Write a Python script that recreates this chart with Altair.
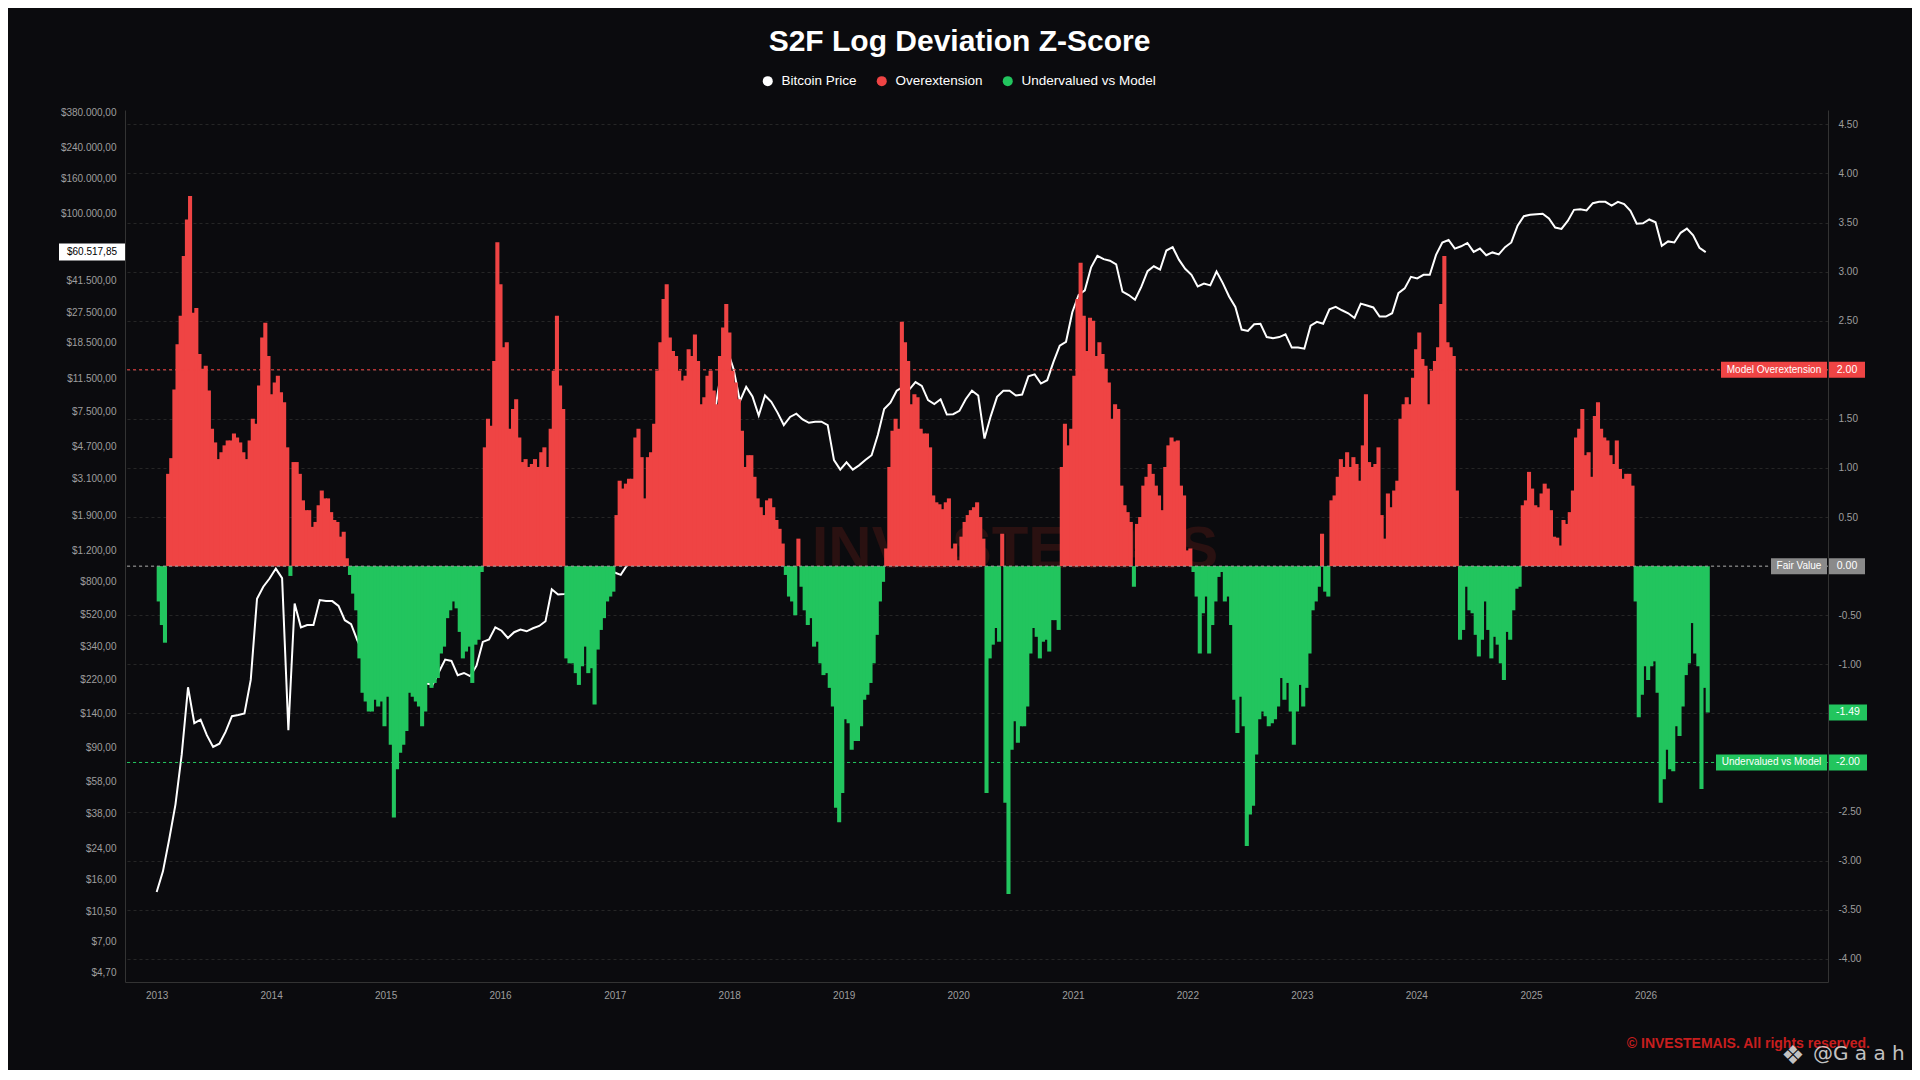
import altair as alt
import pandas as pd
import numpy as np

# ------------------------------------------------------------------ data
# S2F log-deviation z-score, sampled every 10 days from 2013-01-01
z_2013_2016 = [
    -0.36, -0.6, -0.78, 0.94, 1.1, 1.8, 2.26, 2.55, 3.16, 3.53, 3.77, 2.58, 2.63, 2.16, 2.01, 2.04,
    1.79, 1.4, 1.26, 1.09, 1.16, 1.23, 1.28, 1.28, 1.35, 1.31, 1.26, 1.16, 1.09, 1.28, 1.5, 1.45,
    1.84, 2.33, 2.48, 2.14, 1.75, 1.87, 1.94, 1.77, 1.67, 1.21, -0.1, 1.06, 1.06, 0.94, 0.67, 0.57,
    0.57, 0.4, 0.45, 0.62, 0.77, 0.69, 0.69, 0.55, 0.47, 0.45, 0.3, 0.35, 0.08, -0.09, -0.28, -0.45,
    -0.94, -1.29, -1.38, -1.48, -1.48, -1.36, -1.43, -1.38, -1.63, -1.33, -1.82, -2.56, -2.07, -1.9,
    -1.82, -1.68, -1.29, -1.33, -1.38, -1.43, -1.63, -1.48, -1.19, -1.24, -1.19, -1.14, -0.89, -0.82,
    -0.53, -0.45, -0.36, -0.43, -0.67, -0.94, -0.87, -0.82, -1.19, -0.8, -0.75, -0.06, 1.21, 1.5,
    1.43, 2.09, 3.3, 2.87, 2.23, 2.28, 1.4, 1.6, 1.7, 1.31, 1.06, 1.09, 1.01, 1.04, 1.09, 1.01, 1.16,
]
z_2016_2019 = [
    1.21, 1.01, 1.4, 1.99, 2.55, 1.84, 1.6,
    -0.94, -0.99, -0.99, -1.09, -1.21, -1.02, -0.82, -1.09, -1.04, -1.41, -0.85, -0.65, -0.53, -0.36,
    -0.31, -0.26,
    0.52, 0.87, 0.79, 0.84, 0.89, 0.89, 1.31, 1.4, 1.11, 0.69, 1.11, 1.16, 1.45, 1.99, 2.28, 2.72,
    2.87, 2.33, 2.19, 2.14, 1.99, 1.89, 1.94, 2.21, 2.14, 2.36, 2.09, 1.65, 1.72, 1.94, 1.99, 1.79,
    1.65, 2.14, 2.43, 2.67, 2.38, 1.99, 1.87, 1.7, 1.38, 1.01, 1.13, 1.13, 0.91, 0.69, 0.6, 0.52,
    0.67, 0.69, 0.6, 0.47, 0.38, 0.23,
    -0.09, -0.31, -0.36, -0.5, 0.28, -0.21, -0.45, -0.6, -0.53, -0.82, -0.77, -0.99, -1.11, -1.09,
    -1.24, -1.43, -2.46, -2.61, -2.31, -1.56, -1.6, -1.87, -1.78, -1.78, -1.63, -1.36, -1.31, -1.19,
    -0.99, -0.7, -0.36, -0.16,
    0.18, 1.01, 1.38, 1.5, 1.4, 2.49, 2.28, 2.09, 1.65, 1.75, 1.72, 1.4, 1.35, 1.35, 1.21,
]
z_2019_2023 = [
    0.72, 0.65, 0.63, 0.58, 0.65, 0.69, 0.18, 0.23, 0.06, 0.3, 0.45, 0.52, 0.57, 0.6, 0.65, 0.5, 0.28,
    -2.31, -0.94, -0.8, -0.63, -0.77, 0.33,
    -2.41, -3.34, -1.87, -1.58, -1.8, -1.63, -1.63, -1.43, -0.89, -0.63, -0.72, -0.94, -0.77, -0.75,
    -0.87, -0.55, -0.55, -0.65,
    1.01, 1.45, 1.23, 1.4, 1.94, 2.72, 3.09, 2.55, 2.19, 2.53, 2.5, 2.14, 2.28, 2.16, 2.01, 1.87,
    1.5, 1.65, 1.6, 0.82, 0.62, 0.55, 0.45, -0.21,
    0.43, 0.5, 0.82, 0.91, 1.04, 0.94, 0.82, 0.72, 0.57, 1.01, 1.23, 1.31, 1.27, 1.28, 0.82, 0.72,
    0.16, 0.18,
    -0.06, -0.31, -0.89, -0.48, -0.31, -0.89, -0.6, -0.36, -0.11, -0.06, -0.36, -0.31, -0.6, -1.36,
    -1.7, -1.33, -1.63, -2.85, -2.53, -2.44, -1.92, -1.56, -1.48, -1.53, -1.63, -1.6, -1.56, -1.43,
    -1.14, -1.36, -1.19, -1.48, -1.82, -1.48, -1.21, -1.43, -1.24, -0.89, -0.45, -0.36, -0.21,
    0.33,
]
z_2023_2026 = [
    -0.26, -0.31,
    0.67, 0.72, 0.91, 1.09, 1.01, 1.16, 1.01, 1.11, 1.04, 0.87, 1.23, 1.75, 1.06, 1.01, 1.04, 1.21,
    0.52, 0.28, 0.74, 0.6, 0.77, 0.87, 1.5, 1.65, 1.72, 1.65, 1.92, 2.21, 2.38, 2.11, 2.04, 1.65,
    1.99, 2.09, 2.23, 2.67, 3.16, 2.28, 2.23, 2.14, 0.77,
    -0.75, -0.65, -0.21, -0.45, -0.48, -0.7, -0.92, -0.75, -0.36, -0.65, -0.94, -0.72, -0.8, -0.99,
    -1.16, -0.67, -0.75, -0.45, -0.23, -0.21,
    0.62, 0.67, 0.96, 0.79, 0.62, 0.6, 0.74, 0.84, 0.79, 0.57, 0.3, 0.29, 0.21, 0.47, 0.43, 0.55,
    0.77, 1.31, 1.4, 1.6, 1.13, 1.16, 0.91, 1.53, 1.67, 1.4, 1.31, 1.28, 1.13, 1.04, 1.28, 0.99,
    0.89, 0.94, 0.94, 0.82,
    -0.36, -1.54, -1.31, -1.02, -1.16, -1.02, -0.97, -1.29, -2.41, -2.17, -1.87, -2.07, -2.09, -1.63,
    -1.73, -1.43, -1.11, -0.99, -0.58, -0.89, -1.02, -2.27, -1.24, -1.49,
]

# Bitcoin price (USD), sampled every 20 days from 2013-01-01
price_2013_2016 = [
    13.5, 17.7, 27.0, 42.7, 82.6, 199, 124, 130, 106, 90.8, 94.8, 111, 136, 138, 141, 219, 637, 745,
    830, 946, 834, 113, 598, 437, 451, 451, 625, 617, 617, 579, 480, 456, 368, 309, 276, 259, 240,
    212, 199, 212, 212, 189, 199, 209, 206, 243, 286, 281, 233, 240, 230, 264, 361, 373, 437, 418,
    380, 410, 424, 415, 432, 445,
]
price_2016_2019 = [
    474, 721, 673, 678, 690, 678, 700, 721, 755, 793, 845, 899, 871, 989, 1086, 1156, 1585, 1972,
    2460, 2618, 2786, 3581, 4064, 4325, 5070, 5741, 7161, 7379, 12589, 16710, 13000, 8531, 10304,
    9078, 7063, 9204, 8472, 7345, 6237, 6934, 7244, 6714, 6427, 6516, 6516, 6237, 3936, 3475, 3819,
    3475, 3673, 3936, 4198, 5495, 7709, 8375, 9795, 10304, 9931, 10965, 10423, 8650,
]
price_2019_2023 = [
    8222, 8750, 7161, 7194, 7516, 8750, 9795, 9204, 5224, 7015, 9036, 9795, 9795, 9204, 9311, 11830,
    12134, 10765, 11246, 14289, 17701, 18621, 27479, 34435, 36644, 49545, 57677, 55208, 54075,
    51523, 35975, 34435, 32359, 38282, 47098, 50234, 48084, 61802, 64565, 54828, 48641, 44875,
    38548, 39994, 39084, 46881, 40272, 33806, 29444, 21878, 21478, 23442, 23605, 19815, 19543,
    19815, 20559, 17258, 17258, 17022, 23014, 24210,
]
price_2023_2026 = [
    23605, 28510, 29444, 28184, 27102, 25468, 30761, 29992, 29242, 25942, 25942, 27102, 35318,
    37584, 43752, 42855, 44875, 44875, 58345, 68707, 70958, 63387, 65313, 68234, 60674, 63387,
    58076, 60256, 58749, 64565, 68707, 85704, 97051, 98855, 99541, 100231, 94189, 83560, 82035,
    91201, 105439, 106170, 104713, 115080, 117220, 117220, 111429, 117220, 113763, 103992, 87902,
    88308, 92897, 89536, 65766, 69663, 68707, 77983, 82414, 75509, 64121, 60517.85,
]

price_ticks = [380000, 240000, 160000, 100000, 41500, 27500, 18500, 11500, 7500, 4700, 3100,
               1900, 1200, 800, 520, 340, 220, 140, 90, 58, 38, 24, 16, 10.5, 7, 4.7]
z_ticks = [-4.0, -3.5, -3.0, -2.5, -2.0, -1.5, -1.0, -0.5, 0.0, 0.5, 1.0, 1.5, 2.0, 2.5, 3.0,
           3.5, 4.0, 4.5]
year_ticks = list(range(2013, 2027))

series_names = ["Bitcoin Price", "Overextension", "Undervalued vs Model"]
series_colors = ["#ffffff", "#ef4444", "#22c55e"]

RED = "#ef4444"
GREEN = "#22c55e"
GREY_BOX = "#8a8a8a"
AXIS_TXT = "#9e9e9e"
BG = "#0b0b0e"
FONT = "Liberation Sans"

# ------------------------------------------------------------------ frames
z_vals = z_2013_2016 + z_2016_2019 + z_2019_2023 + z_2023_2026
zdf = pd.DataFrame({
    "date": pd.date_range("2013-01-01", periods=len(z_vals), freq="10D"),
    "z": z_vals,
})
zdf["end"] = zdf["date"] + pd.Timedelta(days=13)
zdf["series"] = np.where(zdf["z"] >= 0, "Overextension", "Undervalued vs Model")

p_vals = price_2013_2016 + price_2016_2019 + price_2019_2023 + price_2023_2026
pdf = pd.DataFrame({
    "date": pd.date_range("2013-01-01", periods=len(p_vals), freq="20D"),
    "price": p_vals,
})
last_z = z_vals[-1]
last_price = p_vals[-1]

# ------------------------------------------------------------------ scales / axes
xscale = alt.Scale(domain=[alt.DateTime(year=2012, month=9, date=22),
                           alt.DateTime(year=2027, month=8, date=6)])
zscale = alt.Scale(domain=[-4.236, 4.646], nice=False, zero=False)
pscale = alt.Scale(type="log", domain=[4.137, 391600], nice=False)

x_axis = alt.Axis(values=[alt.DateTime(year=y, month=1, date=1) for y in year_ticks],
                  format="%Y", title=None, labelColor=AXIS_TXT, labelFontSize=10,
                  labelFont=FONT, ticks=False, labelPadding=8, domainColor="#333333",
                  grid=False, labelOverlap=False, labelFlush=False)
p_axis = alt.Axis(orient="left", values=price_ticks, title=None,
                  labelExpr="replace(replace(replace(format(datum.value, '$,.2f'), ',', '#'), '.', ','), '#', '.')",
                  labelColor=AXIS_TXT, labelFontSize=10, labelFont=FONT, ticks=False,
                  labelPadding=9, domainColor="#333333", grid=False, labelOverlap=False,
                  labelFlush=False)
z_axis = alt.Axis(orient="right", values=z_ticks, title=None,
                  labelExpr="abs(datum.value) < 0.01 || abs(abs(datum.value) - 2) < 0.01 ? '' : replace(format(datum.value, '.2f'), '\u2212', '-')",
                  labelColor=AXIS_TXT, labelFontSize=10, labelFont=FONT, ticks=False,
                  labelPadding=10, domainColor="#333333", grid=True, gridColor="#262626",
                  gridDash=[3, 3], labelOverlap=False, labelFlush=False)

# ------------------------------------------------------------------ price group
watermark = alt.Chart(pd.DataFrame({"t": ["INVESTEMAIS"]})).mark_text(
    font=FONT, fontSize=60, fontWeight="bold", color="#2a1111", align="center",
    baseline="alphabetic"
).encode(x=alt.value(890), y=alt.value(458), text="t:N")

price_line = alt.Chart(pdf).mark_line(color="#ffffff", strokeWidth=2).encode(
    x=alt.X("date:T", scale=xscale, axis=x_axis),
    y=alt.Y("price:Q", scale=pscale, axis=p_axis),
)

tag_df = pd.DataFrame({"price": [last_price], "label": ["$60.517,85"]})
price_tag_box = alt.Chart(tag_df).mark_rule(color="#ffffff", strokeWidth=17).encode(
    y=alt.Y("price:Q", scale=pscale, axis=p_axis), x=alt.value(-66), x2=alt.value(0)
)
price_tag_txt = alt.Chart(tag_df).mark_text(
    font=FONT, fontSize=10, color="#000000", align="center", baseline="middle"
).encode(y=alt.Y("price:Q", scale=pscale, axis=p_axis), x=alt.value(-33), text="label:N")

price_group = alt.layer(watermark, price_line, price_tag_box, price_tag_txt)

# ------------------------------------------------------------------ z group
bars = alt.Chart(zdf).mark_bar().encode(
    x=alt.X("date:T", scale=xscale, axis=x_axis),
    x2="end:T",
    y=alt.Y("z:Q", scale=zscale, axis=z_axis),
    y2=alt.datum(0),
    color=alt.Color("series:N",
                    scale=alt.Scale(domain=series_names, range=series_colors),
                    legend=alt.Legend(orient="none", legendX=636, legendY=-36,
                                      direction="horizontal", title=None,
                                      symbolType="circle", symbolSize=100,
                                      symbolStrokeWidth=0, symbolOpacity=1,
                                      labelColor="#ffffff", labelFontSize=13.5,
                                      labelFont=FONT, labelOffset=7,
                                      columnPadding=18, padding=0)),
)

lines_df = pd.DataFrame({"z": [2.0, 0.0, -2.0], "col": [RED, "#a3a3a3", GREEN]})
level_lines = alt.Chart(lines_df).mark_rule(strokeDash=[3, 3], strokeWidth=1).encode(
    y=alt.Y("z:Q", scale=zscale, axis=z_axis),
    color=alt.Color("col:N", scale=None),
)


def box(zv, text, color, x0, x1, size=10):
    d = pd.DataFrame({"z": [zv], "label": [text]})
    r = alt.Chart(d).mark_rule(color=color, strokeWidth=16).encode(
        y=alt.Y("z:Q", scale=zscale, axis=z_axis), x=alt.value(x0), x2=alt.value(x1))
    t = alt.Chart(d).mark_text(font=FONT, fontSize=size, color="#ffffff", align="center",
                               baseline="middle").encode(
        y=alt.Y("z:Q", scale=zscale, axis=z_axis), x=alt.value((x0 + x1) / 2),
        text="label:N")
    return [r, t]


boxes = []
boxes += box(2.0, "Model Overextension", RED, 1596, 1702)
boxes += box(0.0, "Fair Value", GREY_BOX, 1646, 1702)
boxes += box(-2.0, "Undervalued vs Model", GREEN, 1591, 1702)
boxes += box(2.0, "2.00", RED, 1704, 1740, 10.5)
boxes += box(0.0, "0.00", GREY_BOX, 1704, 1740, 10.5)
boxes += box(-2.0, "-2.00", GREEN, 1704, 1742, 10.5)
boxes += box(last_z, f"{last_z:.2f}", GREEN, 1704, 1742, 10.5)

foot_df = pd.DataFrame({"a": ["\u00a9 INVESTEMAIS. All rights reserved."],
                        "b": ["@G a a h"], "c": ["\u2756"]})
footer1 = alt.Chart(foot_df).mark_text(font=FONT, fontSize=14, fontWeight="bold",
                                       color="#c81e1e", align="right").encode(
    x=alt.value(1745), y=alt.value(934), text="a:N")
footer2 = alt.Chart(foot_df).mark_text(font="DejaVu Sans", fontSize=20, color="#d6d6d6",
                                       align="left", opacity=0.9).encode(
    x=alt.value(1688), y=alt.value(944), text="b:N")
footer3 = alt.Chart(foot_df).mark_text(font="DejaVu Sans", fontSize=26, color="#d6d6d6",
                                       align="center", opacity=0.9).encode(
    x=alt.value(1668), y=alt.value(946), text="c:N")

z_group = alt.layer(bars, level_lines, *boxes, footer1, footer2, footer3)

chart = alt.layer(price_group, z_group).resolve_scale(y="independent").properties(
    width=1703,
    height=872,
    padding={"left": 117, "top": 102, "right": 84, "bottom": 88},
    autosize=alt.AutoSizeParams(type="none"),
    title=alt.TitleParams("S2F Log Deviation Z-Score", anchor="middle", fontSize=30,
                          fontWeight="bold", color="#ffffff", font=FONT, offset=17,
                          dx=-17, frame="group"),
).configure(background=BG).configure_view(stroke="transparent")

chart.save("out.html", embed_options={"renderer": "svg", "actions": False})
